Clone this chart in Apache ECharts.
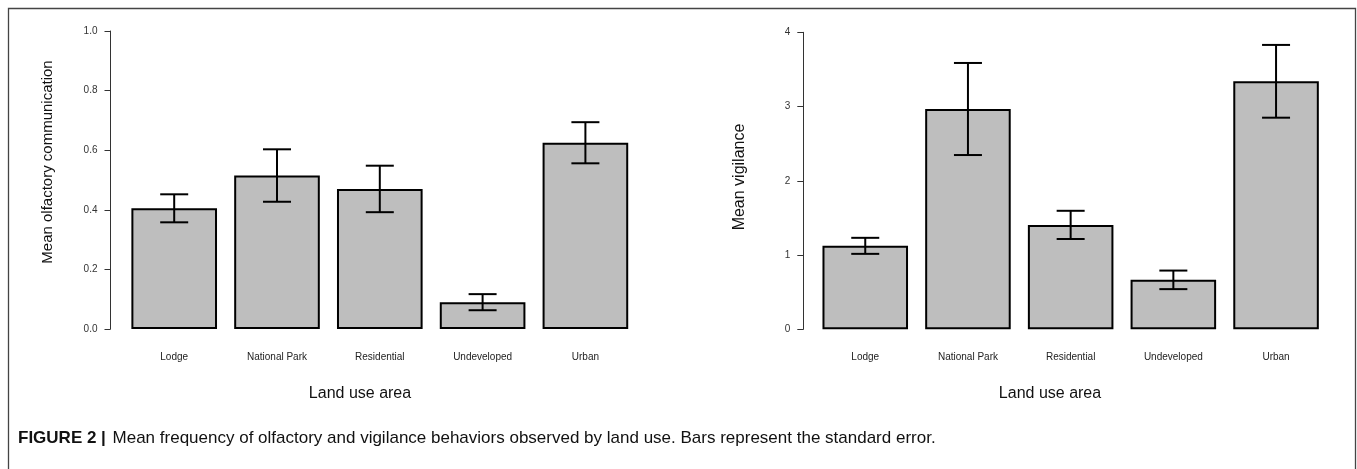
<!DOCTYPE html>
<html>
<head>
<meta charset="utf-8">
<script src="https://cdn.jsdelivr.net/npm/echarts@6/dist/echarts.min.js"></script>
<style>
html,body{margin:0;padding:0;background:#fff;}
#main{width:1357px;height:469px;}
</style>
</head>
<body>
<div id="main"></div>
<script>
// ---- data ----
const categories = ['Lodge', 'National Park', 'Residential', 'Undeveloped', 'Urban'];
const olfactoryMean = [0.405, 0.515, 0.47, 0.09, 0.625];
const olfactorySE   = [0.047, 0.088, 0.078, 0.027, 0.069];
const vigilanceMean = [1.124, 2.967, 1.406, 0.666, 3.34];
const vigilanceSE   = [0.108, 0.62, 0.19, 0.125, 0.49];
const olfactoryTicks = [0, 0.2, 0.4, 0.6, 0.8, 1.0];
const vigilanceTicks = [0, 1, 2, 3, 4];

const FONT = '"Liberation Sans", Arial, Helvetica, sans-serif';
const chart = echarts.init(document.getElementById('main'));

function errData(mean, se) {
  return mean.map((m, i) => [i, m, se[i]]);
}
function renderErr(params, api) {
  const x = api.value(0), m = api.value(1), s = api.value(2);
  const top = api.coord([x, m + s]);
  const bot = api.coord([x, m - s]);
  const hw = 14;
  const st = { stroke: '#000', lineWidth: 2 };
  return {
    type: 'group',
    children: [
      { type: 'line', shape: { x1: top[0], y1: top[1], x2: bot[0], y2: bot[1] }, style: st },
      { type: 'line', shape: { x1: top[0] - hw, y1: top[1], x2: top[0] + hw, y2: top[1] }, style: st },
      { type: 'line', shape: { x1: bot[0] - hw, y1: bot[1], x2: bot[0] + hw, y2: bot[1] }, style: st }
    ]
  };
}
function yAxisCfg(gridIndex, ticks, offset, fmt) {
  return {
    type: 'value', gridIndex: gridIndex, offset: offset,
    min: ticks[0], max: ticks[ticks.length - 1], interval: ticks[1] - ticks[0],
    axisLine: { show: true, lineStyle: { color: '#333', width: 1 } },
    axisTick: { show: true, length: 6, lineStyle: { color: '#333', width: 1 } },
    axisLabel: { fontSize: 10, color: '#333', fontFamily: FONT, margin: 13, formatter: fmt },
    splitLine: { show: false }
  };
}
function xAxisCfg(gridIndex) {
  return {
    type: 'category', gridIndex: gridIndex, data: categories,
    axisLine: { show: false }, axisTick: { show: false },
    axisLabel: { fontSize: 10, color: '#222', fontFamily: FONT, margin: 23 }
  };
}
const barStyle = { color: '#bebebe', borderColor: '#000', borderWidth: 2 };

chart.setOption({
  animation: false,
  backgroundColor: '#fff',
  grid: [
    { left: 122.8, top: 31, width: 514, height: 298 },
    { left: 813.9, top: 32.3, width: 513.5, height: 297 }
  ],
  xAxis: [xAxisCfg(0), xAxisCfg(1)],
  yAxis: [
    yAxisCfg(0, olfactoryTicks, 12.3, v => v.toFixed(1)),
    yAxisCfg(1, vigilanceTicks, 10.6, v => String(v))
  ],
  series: [
    { type: 'bar', xAxisIndex: 0, yAxisIndex: 0, data: olfactoryMean, barCategoryGap: '16.7%', itemStyle: barStyle, silent: true },
    { type: 'custom', xAxisIndex: 0, yAxisIndex: 0, data: errData(olfactoryMean, olfactorySE), renderItem: renderErr, encode: { x: 0, y: 1 }, z: 5, silent: true },
    { type: 'bar', xAxisIndex: 1, yAxisIndex: 1, data: vigilanceMean, barCategoryGap: '16.7%', itemStyle: barStyle, silent: true },
    { type: 'custom', xAxisIndex: 1, yAxisIndex: 1, data: errData(vigilanceMean, vigilanceSE), renderItem: renderErr, encode: { x: 0, y: 1 }, z: 5, silent: true }
  ],
  graphic: [
    { type: 'rect', shape: { x: 8.5, y: 8.5, width: 1347, height: 500 }, style: { fill: 'none', stroke: '#444', lineWidth: 1.3 }, silent: true },
    { type: 'text', x: 360, y: 394, style: { text: 'Land use area', font: '16px ' + FONT, fill: '#111', align: 'center', verticalAlign: 'middle' } },
    { type: 'text', x: 1050, y: 394, style: { text: 'Land use area', font: '16px ' + FONT, fill: '#111', align: 'center', verticalAlign: 'middle' } },
    { type: 'text', x: 48, y: 162, rotation: Math.PI / 2, style: { text: 'Mean olfactory communication', font: '15px ' + FONT, fill: '#111', align: 'center', verticalAlign: 'middle' } },
    { type: 'text', x: 740, y: 177, rotation: Math.PI / 2, style: { text: 'Mean vigilance', font: '16px ' + FONT, fill: '#111', align: 'center', verticalAlign: 'middle' } },
    { type: 'text', x: 18, y: 438, style: { rich: { b: { font: 'bold 17px ' + FONT, fill: '#111' }, n: { font: '17px ' + FONT, fill: '#111' } }, text: '{b|FIGURE 2 |}  {n|Mean frequency of olfactory and vigilance behaviors observed by land use. Bars represent the standard error.}', verticalAlign: 'middle' } }
  ]
});
</script>
</body>
</html>
